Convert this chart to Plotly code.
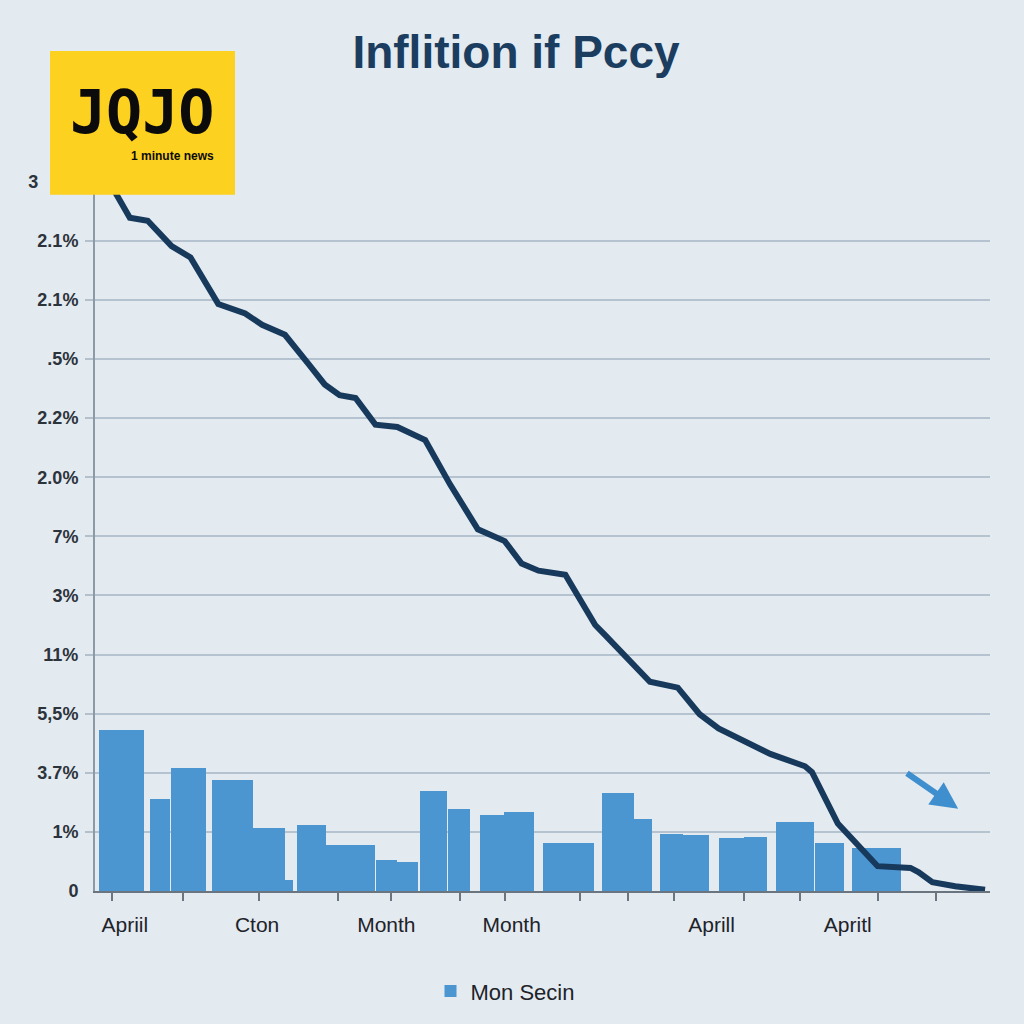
import plotly.graph_objects as go

# ---------------- data ----------------
title_text = "Inflition if Pccy"
legend_name = "Mon Secin"

y_tick_vals = list(range(13))
y_tick_text = ["0", "1%", "3.7%", "5,5%", "11%", "3%", "7%", "2.0%", "2.2%", ".5%", "2.1%", "2.1%",
               "3" + "\u00a0" * 8]
y_grid_vals = list(range(1, 12))

x_label_vals = [3.0, 16.3, 29.3, 41.9, 62.0, 75.7]
x_label_text = ["Apriil", "Cton", "Month", "Month", "Aprill", "Apritl"]
x_tick_marks = [1.7, 8.8, 16.5, 24.4, 29.8, 36.7, 41.2, 48.8, 53.6, 58.2, 65.3, 70.9, 78.7, 84.6]

# line series (period, value)
line_x = [1.6, 2.0, 3.5, 5.3, 7.7, 9.6, 12.4, 15.1, 16.8, 19.1, 21.4, 23.1, 24.6, 26.2, 28.2,
          30.4, 33.2, 35.7, 38.5, 41.2, 42.9, 44.6, 47.3, 50.3, 51.3, 53.6, 55.8, 58.6, 60.8,
          62.7, 65.9, 67.9, 71.4, 72.1, 74.7, 78.7, 82.0, 82.8, 84.2, 86.5, 89.5]
line_y = [12.05, 11.83, 11.39, 11.34, 10.91, 10.72, 9.93, 9.77, 9.58, 9.41, 8.93, 8.57, 8.39, 8.34, 7.89,
          7.85, 7.63, 6.88, 6.12, 5.92, 5.54, 5.42, 5.35, 4.50, 4.33, 3.94, 3.54, 3.44, 2.99,
          2.75, 2.50, 2.32, 2.11, 2.01, 1.14, 0.42, 0.39, 0.32, 0.15, 0.08, 0.02]

# bar series (period centre, value)
bar_x = [2.7, 6.5, 9.4, 13.8, 17.5, 19.5, 21.8, 25.7, 29.3, 31.4, 34.0, 36.6, 39.9, 42.6,
         47.6, 52.6, 55.1, 58.0, 60.4, 64.0, 66.4, 70.4, 73.9, 78.6]
bar_y = [2.72, 1.56, 2.08, 1.88, 1.06, 0.18, 1.11, 0.77, 0.52, 0.49, 1.69, 1.38, 1.29, 1.34,
         0.82, 1.66, 1.21, 0.97, 0.94, 0.89, 0.92, 1.17, 0.82, 0.72]
bar_w = [4.5, 2.0, 3.6, 4.1, 3.2, 0.8, 2.9, 5.0, 2.1, 2.1, 2.7, 2.3, 2.4, 3.0,
         5.1, 3.2, 1.8, 2.3, 2.6, 2.6, 2.3, 3.9, 2.9, 4.9]

# ---------------- layout geometry ----------------
W = H = 1024
L, R = 95, 990      # plot left/right px
T, B = 164, 897     # plot top/bottom px
FONT = "Liberation Sans"
BG = "#e3eaf0"


def px(xp):
    return (xp - L) / (R - L)


def py(yp):
    return (B - yp) / (B - T)


fig = go.Figure()

fig.add_trace(go.Bar(
    x=bar_x, y=bar_y, width=bar_w, name=legend_name,
    marker=dict(color="#4b95d1", line=dict(width=0)),
    showlegend=True,
))

fig.add_trace(go.Scatter(
    x=line_x, y=line_y, mode="lines", showlegend=False,
    line=dict(color="#17395c", width=6, shape="linear"),
))

# trend arrow
fig.add_annotation(
    x=86.8, y=1.39, ax=81.5, ay=2.01, xref="x", yref="y", axref="x", ayref="y",
    showarrow=True, arrowhead=2, arrowsize=0.9, arrowwidth=6, arrowcolor="#3f8fcf", text="",
)

# logo
fig.add_shape(type="rect", xref="paper", yref="paper",
              x0=px(50), x1=px(235), y0=py(195), y1=py(50),
              fillcolor="#fdd11f", line=dict(width=0), layer="above")
fig.add_annotation(xref="paper", yref="paper", x=px(142), y=py(112), text="<b>JQJO</b>",
                   showarrow=False, font=dict(family="DejaVu Sans Mono", size=60, color="#0b0b0b"),
                   xanchor="center", yanchor="middle")
fig.add_annotation(xref="paper", yref="paper", x=px(172), y=py(156), text="<b>1 minute news</b>",
                   showarrow=False, font=dict(family="Liberation Sans", size=12, color="#0b0b0b"),
                   xanchor="center", yanchor="middle")

fig.update_layout(
    width=W, height=H,
    margin=dict(l=L, r=W - R, t=T, b=H - B, pad=0),
    paper_bgcolor=BG,
    plot_bgcolor=BG,
    font=dict(family=FONT, color="#262b33"),
    title=dict(text="<b>" + title_text + "</b>", x=px(516), xref="paper", xanchor="center",
               y=1 - 52 / H, yanchor="middle",
               font=dict(family=FONT, size=46, color="#1b3d5f")),
    bargap=0,
    showlegend=True,
    legend=dict(orientation="h", x=px(505), xanchor="center", y=py(998), yanchor="middle",
                font=dict(size=22, color="#1e2329"), bgcolor="rgba(0,0,0,0)"),
    xaxis=dict(
        range=[0, 90], showgrid=False, zeroline=False,
        showline=True, linecolor="#6b7580", linewidth=2,
        tickmode="array", tickvals=x_label_vals, ticktext=x_label_text,
        ticks="", ticklabelstandoff=14,
        tickfont=dict(family=FONT, size=21, color="#1e2329"),
        minor=dict(tickmode="array", tickvals=x_tick_marks, ticks="outside",
                   ticklen=8, tickwidth=2, tickcolor="#6b7580", showgrid=False),
    ),
    yaxis=dict(
        range=[0, 12.3], zeroline=False,
        showline=True, linecolor="#8c9aa8", linewidth=2,
        tickmode="array", tickvals=y_tick_vals, ticktext=y_tick_text,
        ticks="", showgrid=False,
        ticklabelstandoff=11,
        tickfont=dict(family=FONT, size=18, color="#2c333b", weight="bold"),
        minor=dict(tickmode="array", tickvals=y_grid_vals, ticks="outside", ticklen=8,
                   tickcolor="#b3c0cc", tickwidth=1.5,
                   showgrid=True, gridcolor="#b5c2cf", gridwidth=1.5),
    ),
)

fig.write_html("out.html")
